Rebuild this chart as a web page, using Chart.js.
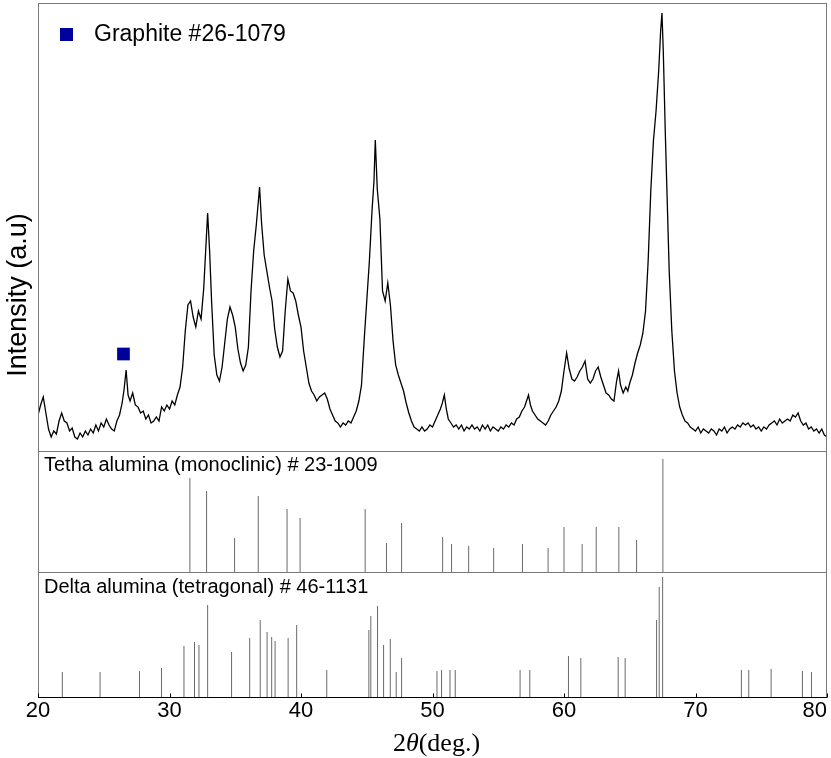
<!DOCTYPE html>
<html>
<head>
<meta charset="utf-8">
<script src="https://cdn.jsdelivr.net/npm/chart.js@4"></script>
<style>
  body { margin: 0; background: #fff; }
  canvas { display: block; }
</style>
</head>
<body>
<canvas id="chart" width="831" height="758"></canvas>
<script>
const xTicks = [20, 30, 40, 50, 60, 70, 80];

// measured pattern (2theta, intensity in arbitrary units)
const xrdAngle = [
    20, 20.2, 20.4, 20.6, 20.8,
    21, 21.2, 21.4, 21.6, 21.8,
    22, 22.2, 22.4, 22.6, 22.8,
    23, 23.2, 23.4, 23.6, 23.8,
    24, 24.2, 24.4, 24.6, 24.8,
    25, 25.2, 25.4, 25.6, 25.8,
    26, 26.2, 26.4, 26.55, 26.7, 26.85,
    27, 27.2, 27.4, 27.6, 27.8,
    28, 28.2, 28.4, 28.6, 28.8,
    29, 29.2, 29.4, 29.6, 29.8,
    30, 30.2, 30.4, 30.6, 30.8,
    31, 31.2, 31.4, 31.6, 31.8,
    32, 32.2, 32.4, 32.6, 32.75, 32.9,
    33.05, 33.2, 33.4, 33.6, 33.8,
    34, 34.2, 34.4, 34.6, 34.8,
    35, 35.2, 35.4, 35.6, 35.8,
    36, 36.2, 36.4, 36.6, 36.85,
    37, 37.2, 37.4, 37.6, 37.8,
    38, 38.2, 38.4, 38.6, 38.8,
    39, 39.2, 39.4, 39.6, 39.8,
    40, 40.2, 40.4, 40.6, 40.8,
    41, 41.2, 41.4, 41.6, 41.8,
    42, 42.2, 42.4, 42.6, 42.8,
    43, 43.2, 43.4, 43.6, 43.8,
    44, 44.2, 44.4, 44.6, 44.8,
    45, 45.2, 45.4, 45.55, 45.65, 45.8,
    46, 46.2, 46.4, 46.6, 46.8,
    47, 47.2, 47.4, 47.6, 47.8,
    48, 48.2, 48.4, 48.6, 48.8,
    49, 49.2, 49.4, 49.6, 49.8,
    50, 50.2, 50.4, 50.6, 50.75, 50.9,
    51.05, 51.2, 51.4, 51.6, 51.8,
    52, 52.2, 52.4, 52.6, 52.8,
    53, 53.2, 53.4, 53.6, 53.8,
    54, 54.2, 54.4, 54.6, 54.8,
    55, 55.2, 55.4, 55.6, 55.8,
    56, 56.2, 56.4, 56.6, 56.8,
    57, 57.15, 57.3, 57.45, 57.6, 57.8,
    58, 58.2, 58.4, 58.6, 58.8,
    59, 59.2, 59.4, 59.6, 59.8,
    60, 60.2, 60.4, 60.6, 60.8,
    61, 61.2, 61.4, 61.6, 61.8,
    62, 62.2, 62.4, 62.6, 62.8,
    63, 63.2, 63.4, 63.6, 63.8,
    64, 64.15, 64.3, 64.5, 64.7, 64.85,
    65, 65.2, 65.4, 65.6, 65.8,
    66, 66.2, 66.4, 66.6, 66.8,
    67, 67.2, 67.35, 67.45, 67.55, 67.7, 67.85,
    68, 68.2, 68.4, 68.6, 68.8,
    69, 69.2, 69.4, 69.6, 69.8,
    70, 70.2, 70.4, 70.6, 70.8,
    71, 71.2, 71.4, 71.6, 71.8,
    72, 72.2, 72.4, 72.6, 72.8,
    73, 73.2, 73.4, 73.6, 73.8,
    74, 74.2, 74.4, 74.6, 74.8,
    75, 75.2, 75.4, 75.6, 75.8,
    76, 76.2, 76.4, 76.6, 76.8,
    77, 77.2, 77.4, 77.6, 77.8,
    78, 78.2, 78.4, 78.6, 78.8,
    79, 79.2, 79.4, 79.6, 79.8,
    80
];
const xrdIntensity = [
    36, 46, 54, 38, 22,
    14, 20, 17, 30, 38,
    30, 28, 20, 23, 14,
    12, 18, 14, 20, 16,
    22, 18, 26, 20, 28,
    24, 32, 26, 22, 20,
    30, 36, 48, 62, 81, 56,
    50, 58, 46, 44, 38,
    40, 32, 36, 28, 30,
    34, 30, 44, 40, 46,
    42, 50, 46, 56, 64,
    84, 120, 146, 150, 134,
    124, 140, 132, 162, 200, 238,
    200, 150, 96, 76, 70,
    84, 108, 132, 144, 136,
    124, 102, 88, 80, 86,
    104, 160, 200, 226, 264,
    228, 196, 180, 164, 150,
    122, 104, 94, 100, 140,
    172, 160, 158, 150, 136,
    124, 100, 84, 68, 60,
    56, 50, 54, 56, 58,
    52, 42, 36, 30, 28,
    24, 28, 26, 30, 28,
    34, 40, 50, 66, 110,
    150, 190, 240, 270, 311, 262,
    232, 160, 150, 168, 146,
    110, 86, 76, 68, 60,
    48, 38, 30, 24, 22,
    20, 24, 20, 22, 26,
    24, 30, 36, 42, 48, 56,
    42, 32, 28, 24, 26,
    22, 26, 20, 24, 22,
    26, 22, 24, 20, 26,
    22, 26, 20, 24, 22,
    20, 24, 22, 26, 24,
    28, 26, 32, 34, 40,
    44, 50, 56, 46, 40, 36,
    32, 30, 28, 26, 30,
    36, 40, 44, 50, 60,
    80, 98, 82, 72, 70,
    74, 80, 84, 90, 72,
    68, 72, 80, 84, 74,
    66, 58, 56, 52, 50,
    70, 80, 66, 58, 64, 60,
    68, 76, 88, 98, 106,
    118, 140, 190, 260, 310,
    340, 380, 420, 438, 400, 320, 250,
    180, 120, 80, 58, 44,
    36, 30, 28, 24, 22,
    20, 24, 18, 22, 20,
    18, 22, 20, 16, 22,
    20, 24, 18, 22, 24,
    22, 26, 24, 28, 26,
    28, 24, 26, 22, 24,
    20, 24, 22, 26, 28,
    30, 26, 32, 28, 30,
    32, 30, 36, 34, 38,
    30, 26, 28, 22, 24,
    20, 22, 18, 22, 16,
    14
];

const graphiteAngle = [26.5];
const graphiteLevel = [97];

// reference cards
const thetaAngle = [31.55, 32.82, 34.95, 36.75, 38.94, 39.93, 44.88, 46.5, 47.65, 50.77, 51.45,
    52.75, 54.65, 56.84, 58.79, 60.0, 61.38, 62.45, 64.17, 65.52, 67.52];
const thetaHeight = [94, 81, 34, 76, 63, 54, 63, 29, 49, 35, 28,
    26, 24, 28, 24, 45, 28, 45, 45, 32, 113];

const deltaAngle = [21.85, 24.72, 27.72, 29.39, 31.1, 31.9, 32.24, 32.9, 34.72, 36.1, 36.9,
    37.42, 37.77, 38.03, 39.02, 39.67, 41.96, 45.16, 45.31, 45.82, 46.28, 46.79, 47.24, 47.65,
    50.34, 50.69, 51.33, 51.73, 56.66, 57.4, 60.34, 61.28, 64.12, 64.65, 67.04, 67.24, 67.5,
    73.49, 74.05, 75.75, 78.13, 78.82];
const deltaHeight = [25, 25, 26, 29, 51, 55, 52, 92, 45, 59, 77,
    65, 60, 56, 59, 72, 27, 67, 81, 91, 52, 58, 25, 39,
    26, 27, 27, 27, 27, 27, 41, 39, 40, 39, 77, 110, 120,
    27, 27, 28, 26, 25];

const SANS = '"Liberation Sans", Arial, sans-serif';
const SERIF = '"Liberation Serif", "Times New Roman", serif';

function sticks(angles, heights) {
    const pts = [];
    angles.forEach((a, i) => {
        pts.push({ x: a, y: 0 }, { x: a, y: heights[i] }, { x: a, y: null });
    });
    return pts;
}

const decor = {
    id: 'decor',
    afterDraw(chart) {
        const { ctx, chartArea: a, scales, width } = chart;
        ctx.save();

        // panel frames
        ctx.strokeStyle = '#7a7a7a';
        ctx.lineWidth = 1;
        ['yX', 'yT', 'yD'].forEach(id => {
            const s = scales[id];
            const t = Math.round(s.top) + 0.5;
            const b = Math.round(s.bottom) + 0.5;
            ctx.strokeRect(Math.round(a.left) + 0.5, t, Math.round(a.right - a.left) - 1, b - t);
        });

        // bottom axis + inward ticks
        const yb = Math.round(scales.yD.bottom) + 0.5;
        ctx.strokeStyle = '#000';
        ctx.beginPath();
        ctx.moveTo(a.left, yb);
        ctx.lineTo(a.right, yb);
        xTicks.forEach(v => {
            const x = Math.round(scales.x.getPixelForValue(v)) + 0.5;
            ctx.moveTo(x, yb);
            ctx.lineTo(x, yb - 4);
        });
        ctx.stroke();

        // tick labels, kept inside the canvas
        ctx.fillStyle = '#000';
        ctx.font = '22px ' + SANS;
        ctx.textAlign = 'center';
        ctx.textBaseline = 'middle';
        xTicks.forEach(v => {
            const txt = String(v);
            const w = ctx.measureText(txt).width;
            const x = Math.min(scales.x.getPixelForValue(v), width - 4 - w / 2);
            ctx.fillText(txt, x, 711);
        });

        // legend
        ctx.fillStyle = '#00009c';
        ctx.fillRect(60, 28, 13, 13);
        ctx.fillStyle = '#000';
        ctx.font = '23px ' + SANS;
        ctx.textAlign = 'left';
        ctx.fillText('Graphite #26-1079', 94, 35);

        // card labels
        ctx.font = '20px ' + SANS;
        ctx.textBaseline = 'alphabetic';
        ctx.fillText('Tetha alumina (monoclinic) # 23-1009', 44, 471);
        ctx.fillText('Delta alumina (tetragonal) # 46-1131', 44, 593);

        // y title
        ctx.save();
        ctx.translate(19, 295);
        ctx.rotate(-Math.PI / 2);
        ctx.font = '27px ' + SANS;
        ctx.textAlign = 'center';
        ctx.textBaseline = 'middle';
        ctx.fillText('Intensity (a.u)', 0, 0);
        ctx.restore();

        // x title: 2θ(deg.)
        const parts = [['2', ''], ['\u03b8', 'italic '], ['(deg.)', '']];
        let w = 0;
        parts.forEach(p => { ctx.font = p[1] + '26px ' + SERIF; w += ctx.measureText(p[0]).width; });
        let x = (a.left + a.right) / 2 - w / 2 + 4;
        ctx.textAlign = 'left';
        ctx.textBaseline = 'alphabetic';
        parts.forEach(p => {
            ctx.font = p[1] + '26px ' + SERIF;
            ctx.fillText(p[0], x, 751);
            x += ctx.measureText(p[0]).width;
        });
        ctx.restore();
    }
};

const hiddenY = (max, weight, stackWeight) => ({
    type: 'linear',
    position: 'left',
    stack: 'panels',
    stackWeight: stackWeight,
    weight: weight,
    min: 0,
    max: max,
    ticks: { display: false },
    grid: { display: false, drawTicks: false },
    border: { display: false },
    afterFit: s => { s.width = 38; s.paddingTop = 0; s.paddingBottom = 0; }
});

new Chart(document.getElementById('chart'), {
    type: 'line',
    data: {
        datasets: [
            {
                label: 'Graphite #26-1079',
                type: 'scatter',
                data: graphiteAngle.map((a, i) => ({ x: a, y: graphiteLevel[i] })),
                yAxisID: 'yX',
                pointStyle: 'rect',
                pointRadius: 9,
                backgroundColor: '#00009c',
                borderColor: '#00009c',
                borderWidth: 0
            },
            {
                label: 'sample',
                data: xrdAngle.map((a, i) => ({ x: a, y: xrdIntensity[i] })),
                yAxisID: 'yX',
                borderColor: '#000',
                borderWidth: 1.3,
                pointRadius: 0,
                tension: 0
            },
            {
                label: 'Tetha alumina',
                data: sticks(thetaAngle, thetaHeight),
                yAxisID: 'yT',
                borderColor: '#6a6a6a',
                borderWidth: 1,
                pointRadius: 0,
                spanGaps: false
            },
            {
                label: 'Delta alumina',
                data: sticks(deltaAngle, deltaHeight),
                yAxisID: 'yD',
                borderColor: '#6a6a6a',
                borderWidth: 1,
                pointRadius: 0,
                spanGaps: false
            }
        ]
    },
    options: {
        responsive: false,
        animation: false,
        events: [],
        layout: { autoPadding: false, padding: { top: 3, right: 4, left: 0, bottom: 0 } },
        plugins: { legend: { display: false }, tooltip: { enabled: false } },
        scales: {
            x: {
                type: 'linear',
                position: 'bottom',
                min: 20,
                max: 80,
                afterBuildTicks: s => { s.ticks = xTicks.map(v => ({ value: v })); },
                ticks: { display: false },
                grid: { display: false, drawTicks: false },
                border: { display: false },
                afterFit: s => { s.height = 61; s.paddingLeft = 0; s.paddingRight = 0; }
            },
            yX: hiddenY(448, 3, 448),
            yT: hiddenY(121, 2, 121),
            yD: hiddenY(125, 1, 125)
        }
    },
    plugins: [decor]
});
</script>
</body>
</html>
